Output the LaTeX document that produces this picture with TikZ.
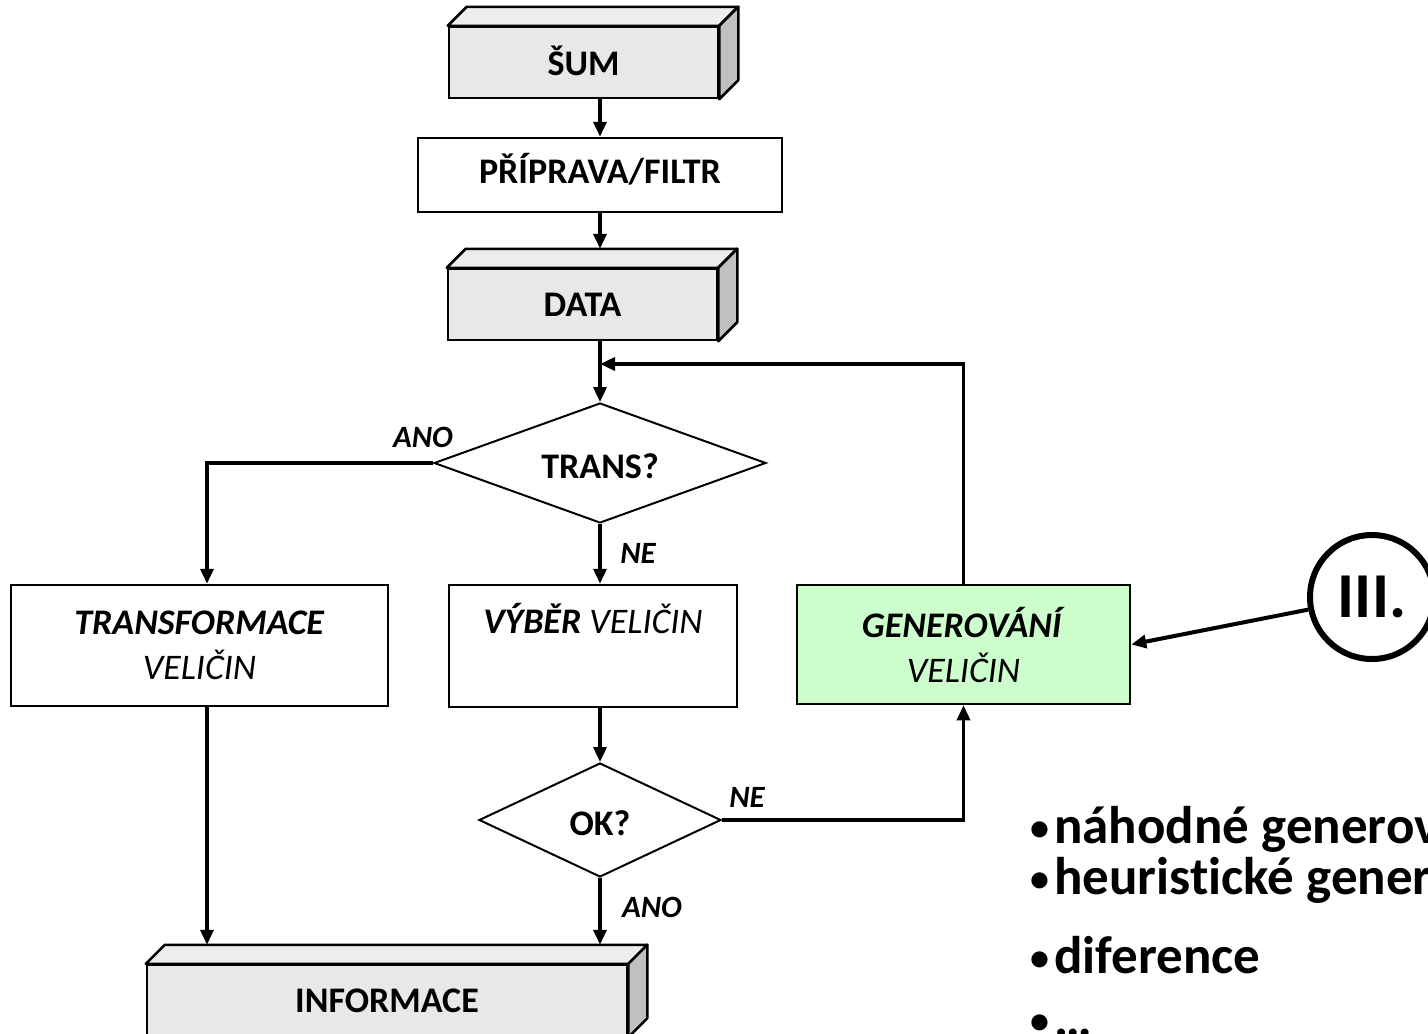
\documentclass[tikz,border=0pt]{standalone}
\usepackage{fontspec}
\setmainfont[Ligatures=NoCommon]{Carlito}
\usetikzlibrary{arrows.meta,shapes.geometric,calc}

\definecolor{frontgray}{HTML}{E8E8E8}
\definecolor{topgray}{HTML}{EDEDED}
\definecolor{sidegray}{HTML}{C0C0C0}
\definecolor{genfill}{HTML}{CCFFCC}

% top and right faces of a raised block drawn behind its front face
\newcommand\slabfaces[1]{%
  \filldraw[line width=1.25pt,line join=round,fill=topgray]
    (#1.north west) -- ++(19,-19) -- ($(#1.north east)+(19,-19)$) -- (#1.north east) -- cycle;
  \filldraw[line width=1.25pt,line join=round,fill=sidegray]
    (#1.north east) -- ++(19,-19) -- ($(#1.south east)+(19,-19)$) -- (#1.south east) -- cycle;}

% small list bullet
\newcommand\listdot{\raisebox{1.5pt}{\fontsize{19}{19}\selectfont•}\hspace{2.5pt}}

\begin{document}
\begin{tikzpicture}[x=0.5pt,y=-0.5pt,
  every node/.style={font=\bfseries\fontsize{18}{22.5}\selectfont},
  flow/.style={line width=1.75pt,-{Triangle[width=6.5pt,length=7.5pt]}},
  stepbox/.style={draw,line width=1.25pt,fill=white,inner sep=0pt,align=center},
  solidbox/.style={stepbox,fill=frontgray},
  decision/.style={diamond,draw,line width=1pt,fill=white,inner sep=0pt,
    shape aspect=2.5,text height=15.5pt,text depth=0pt},
  tag/.style={inner sep=0pt,font=\bfseries\itshape\fontsize{15.5}{18}\selectfont},
  bulletline/.style={anchor=base west,inner sep=0pt,font=\bfseries\fontsize{26.5}{26.5}\selectfont}
]
\useasboundingbox (0,0) rectangle (1428,1033);
\clip (0,0) rectangle (1428,1033);

% blocks
\node[solidbox,minimum width=134.5pt,minimum height=35.5pt,text depth=2pt] (sum) at (583.5,62.5) {ŠUM};
\slabfaces{sum}
\node[stepbox,minimum width=182pt,minimum height=37pt,text depth=7pt] (prep) at (600,175) {PŘÍPRAVA/FILTR};
\node[solidbox,minimum width=134.5pt,minimum height=35.5pt] (data) at (582.5,304.5) {DATA};
\slabfaces{data}
\node[decision,minimum width=166pt,minimum height=60pt] (trans) at (600,463) {TRANS?};
\node[stepbox,minimum width=188.5pt,minimum height=60.5pt] (transf) at (199.5,645.5)
  {\textit{TRANSFORMACE}\\\textmd{\textit{VELIČIN}}};
\node[stepbox,minimum width=144pt,minimum height=61pt] (select) at (593,646) {};
\node[inner sep=0pt] (selecttext) at (593,618) {\textit{VÝBĚR} \textmd{\textit{VELIČIN}}};
\node[stepbox,fill=genfill,minimum width=166.5pt,minimum height=59.5pt] (gen) at (963.5,644.5)
  {\textit{GENEROVÁNÍ}\\\textmd{\textit{VELIČIN}}};
\node[decision,minimum width=121pt,minimum height=57pt] (ok) at (600,820) {OK?};
\node[solidbox,minimum width=240pt,minimum height=35.5pt] (info) at (387,1000.5) {INFORMACE};
\slabfaces{info}
\node[circle,draw,line width=3pt,fill=white,minimum size=62pt,inner sep=0pt,
  font=\bfseries\fontsize{32}{32}\selectfont] (iii) at (1372,597) {III.};

% connectors
\coordinate (merge) at (600,364);
\coordinate (leftlane) at (207,463);
\draw[flow] (prep.north |- sum.south) -- (prep.north);
\draw[flow] (prep.south) -- ($(prep.south |- data.north)+(0,-19)$);
\draw[flow] (trans.north |- data.south) -- (trans.north);
\draw[flow] (gen.north) |- (merge);
\draw[flow] (trans.west) -| (transf.north -| leftlane);
\draw[flow] (trans.south) -- (trans.south |- select.north);
\draw[flow] (ok.north |- select.south) -- (ok.north);
\draw[flow] (ok.east) -| (gen.south);
\draw[flow] (ok.south) -- ($(ok.south |- info.north)+(0,-19)$);
\draw[flow] (transf.south -| leftlane) -- ($(leftlane |- info.north)+(0,-19)$);
\draw[flow,line width=2pt] (iii) -- (gen.east);

% branch labels
\node[tag] (anotrans) at (423,437) {ANO};
\node[tag] (netrans) at (638,553) {NE};
\node[tag] (neok) at (747,797) {NE};
\node[tag] (anook) at (652,907) {ANO};

% list of generation methods
\node[bulletline] (b1) at (1030,843) {\listdot náhodné generování};
\node[bulletline] (b2) at (1030,894) {\listdot heuristické generování};
\node[bulletline] (b3) at (1030,973) {\listdot diference};
\node[bulletline] (b4) at (1030,1036) {\listdot …};
\end{tikzpicture}
\end{document}
